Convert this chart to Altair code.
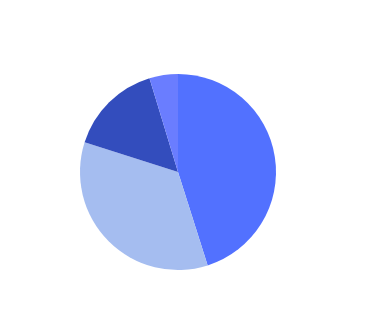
import altair as alt
import pandas as pd

categories = ["A", "B", "C", "D"]
values = [45.1, 34.8, 15.4, 4.7]
colors = ["#5271ff", "#a5bdf0", "#334dbd", "#6a7dff"]

df = pd.DataFrame({"category": categories, "value": values, "order": list(range(len(categories)))})

chart = alt.Chart(df).mark_arc(radius=98, stroke=None).encode(
    theta=alt.Theta("value:Q", stack=True),
    color=alt.Color("category:N", scale=alt.Scale(domain=categories, range=colors), legend=None),
    order=alt.Order("order:Q"),
    x=alt.value(178),
    y=alt.value(172),
).properties(
    width=375, height=318, autosize=alt.AutoSizeParams(type="none"), padding=0,
    background="white"
).configure_view(stroke=None)

chart.save("out.html", embed_options={"renderer": "svg", "actions": False})
